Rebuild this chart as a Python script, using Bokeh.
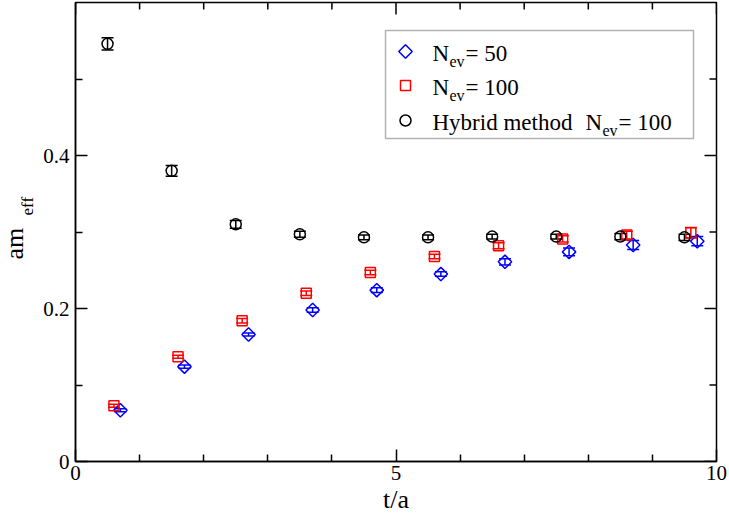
import numpy as np
from bokeh.plotting import figure
from bokeh.models import (ColumnDataSource, Whisker, TeeHead, Label, BoxAnnotation,
                          FixedTicker, Range1d, Title)
from bokeh.embed import file_html
from bokeh.resources import INLINE

# Effective mass am_eff against time slice t/a, three estimators
t_n50 = [0.7, 1.7, 2.7, 3.7, 4.7, 5.7, 6.7, 7.7, 8.7, 9.7]
m_n50 = [0.067, 0.124, 0.166, 0.198, 0.224, 0.245, 0.261, 0.274, 0.283, 0.288]
e_n50 = [0.002, 0.002, 0.002, 0.003, 0.003, 0.003, 0.004, 0.005, 0.006, 0.006]

t_n100 = [0.6, 1.6, 2.6, 3.6, 4.6, 5.6, 6.6, 7.6, 8.6, 9.6]
m_n100 = [0.073, 0.137, 0.184, 0.220, 0.247, 0.268, 0.282, 0.291, 0.296, 0.299]
e_n100 = [0.002, 0.002, 0.003, 0.003, 0.003, 0.003, 0.004, 0.004, 0.005, 0.007]

t_hyb = [0.5, 1.5, 2.5, 3.5, 4.5, 5.5, 6.5, 7.5, 8.5, 9.5]
m_hyb = [0.546, 0.380, 0.310, 0.297, 0.293, 0.293, 0.294, 0.294, 0.294, 0.293]
e_hyb = [0.008, 0.007, 0.005, 0.004, 0.003, 0.003, 0.003, 0.003, 0.004, 0.004]

x_major = [0, 5, 10]
x_minor = [1, 2, 3, 4, 6, 7, 8, 9]
y_major = [0, 0.2, 0.4]
y_minor = [0.1, 0.3, 0.5]

FONT = "Liberation Serif"
W, H = 729, 516
LEFT, RIGHT, TOP, BOTTOM = 75, 13, 2, 55
XMIN, XMAX, YMIN, YMAX = 0.0, 10.0, 0.0, 0.6
FW, FH = W - LEFT - RIGHT, H - TOP - BOTTOM
MAJOR_LEN, MINOR_LEN = 12, 7


def dx(px):
    """canvas pixel column -> data x"""
    return XMIN + (px - LEFT) / FW * (XMAX - XMIN)


def dy(py):
    """canvas pixel row -> data y"""
    return YMAX - (py - TOP) / FH * (YMAX - YMIN)


p = figure(width=W, height=H, x_range=Range1d(XMIN, XMAX), y_range=Range1d(YMIN, YMAX),
           output_backend="svg", toolbar_location=None,
           min_border_left=LEFT, min_border_right=RIGHT,
           min_border_top=TOP, min_border_bottom=BOTTOM)
p.xgrid.visible = False
p.ygrid.visible = False
p.outline_line_color = "black"
p.outline_line_width = 1.5
p.outline_line_alpha = 1.0
p.background_fill_color = "white"
p.border_fill_color = "white"


def style_axis(ax, ticks, minor, standoff):
    ax.ticker = FixedTicker(ticks=ticks, minor_ticks=minor)
    ax.axis_line_color = "black"
    ax.axis_line_width = 1.5
    ax.major_tick_in = MAJOR_LEN
    ax.major_tick_out = 0
    ax.minor_tick_in = MINOR_LEN
    ax.minor_tick_out = 0
    ax.major_tick_line_width = 1.5
    ax.minor_tick_line_width = 1.5
    ax.major_tick_line_color = "black"
    ax.minor_tick_line_color = "black"
    ax.major_label_text_font = FONT
    ax.major_label_text_font_size = "21px"
    ax.major_label_text_color = "black"
    ax.major_label_standoff = standoff


style_axis(p.xaxis[0], x_major, x_minor, 4)
style_axis(p.yaxis[0], y_major, y_minor, 6)
p.xaxis.axis_label = "t/a"
p.xaxis.axis_label_text_font = FONT
p.xaxis.axis_label_text_font_size = "26px"
p.xaxis.axis_label_text_font_style = "normal"
p.xaxis.axis_label_text_color = "black"
p.xaxis.axis_label_standoff = 2

# y-axis title "am" with subscript "eff", stacked outward from the axis
for text, size, offset, standoff in [("eff", "17px", 246, 8), ("am", "26px", 202, -35)]:
    p.add_layout(Title(text=text, align="left", offset=offset, standoff=standoff,
                       text_font=FONT, text_font_size=size, text_font_style="normal",
                       text_color="black"), "left")

# mirrored inward ticks on the top and right edges of the frame
tx = x_major + x_minor
tlen_x = [MAJOR_LEN] * len(x_major) + [MINOR_LEN] * len(x_minor)
p.segment(x0=tx, y0=[YMAX] * len(tx), x1=tx,
          y1=[YMAX - L / FH * (YMAX - YMIN) for L in tlen_x],
          line_color="black", line_width=1.5)
ty = y_major + y_minor
tlen_y = [MAJOR_LEN] * len(y_major) + [MINOR_LEN] * len(y_minor)
p.segment(x0=[XMAX] * len(ty), y0=ty,
          x1=[XMAX - L / FW * (XMAX - XMIN) for L in tlen_y], y1=ty,
          line_color="black", line_width=1.5)


def series(t, m, e, color, marker, size, angle=0.0):
    src = ColumnDataSource(dict(t=t, m=m,
                                lo=[a - b for a, b in zip(m, e)],
                                hi=[a + b for a, b in zip(m, e)]))
    p.add_layout(Whisker(source=src, base="t", lower="lo", upper="hi", dimension="height",
                         line_color=color, line_width=1.5,
                         lower_head=TeeHead(size=12, line_color=color, line_width=1.5),
                         upper_head=TeeHead(size=12, line_color=color, line_width=1.5)))
    p.scatter("t", "m", source=src, marker=marker, size=size, angle=angle,
              fill_color=None, line_color=color, line_width=1.5)


series(t_n50, m_n50, e_n50, "#0000ff", "square", 9.5, np.pi / 4)
series(t_n100, m_n100, e_n100, "#ff0000", "square", 10)
series(t_hyb, m_hyb, e_hyb, "black", "circle", 11)


def label(px, py, text, size):
    p.add_layout(Label(x=dx(px), y=dy(py), text=text, text_font=FONT,
                       text_font_size=size, text_color="black",
                       text_align="left", text_baseline="alphabetic"))


# legend
p.add_layout(BoxAnnotation(left=dx(385), right=dx(693), top=dy(30), bottom=dy(138),
                           fill_alpha=0, line_color="black", line_width=1.5))

rows = [
    ("#0000ff", "square", 9.5, np.pi / 4, "", "= 50", 53),
    ("#ff0000", "square", 10, 0.0, "", "= 100", 87),
    ("black", "circle", 11, 0.0, "Hybrid method", "= 100", 122),
]
for color, marker, size, ang, head, tail, base in rows:
    p.scatter([dx(405)], [dy(base - 2)], marker=marker, size=size, angle=ang,
              fill_color=None, line_color=color, line_width=1.5)
    nx = 432
    if head:
        label(432, base, head, "23px")
        nx = 585
    label(nx, base, "N", "23px")
    label(nx + 17, base + 8, "ev", "16px")
    label(nx + 33, base, tail, "23px")

open("out.html", "w").write(file_html(p, INLINE))
